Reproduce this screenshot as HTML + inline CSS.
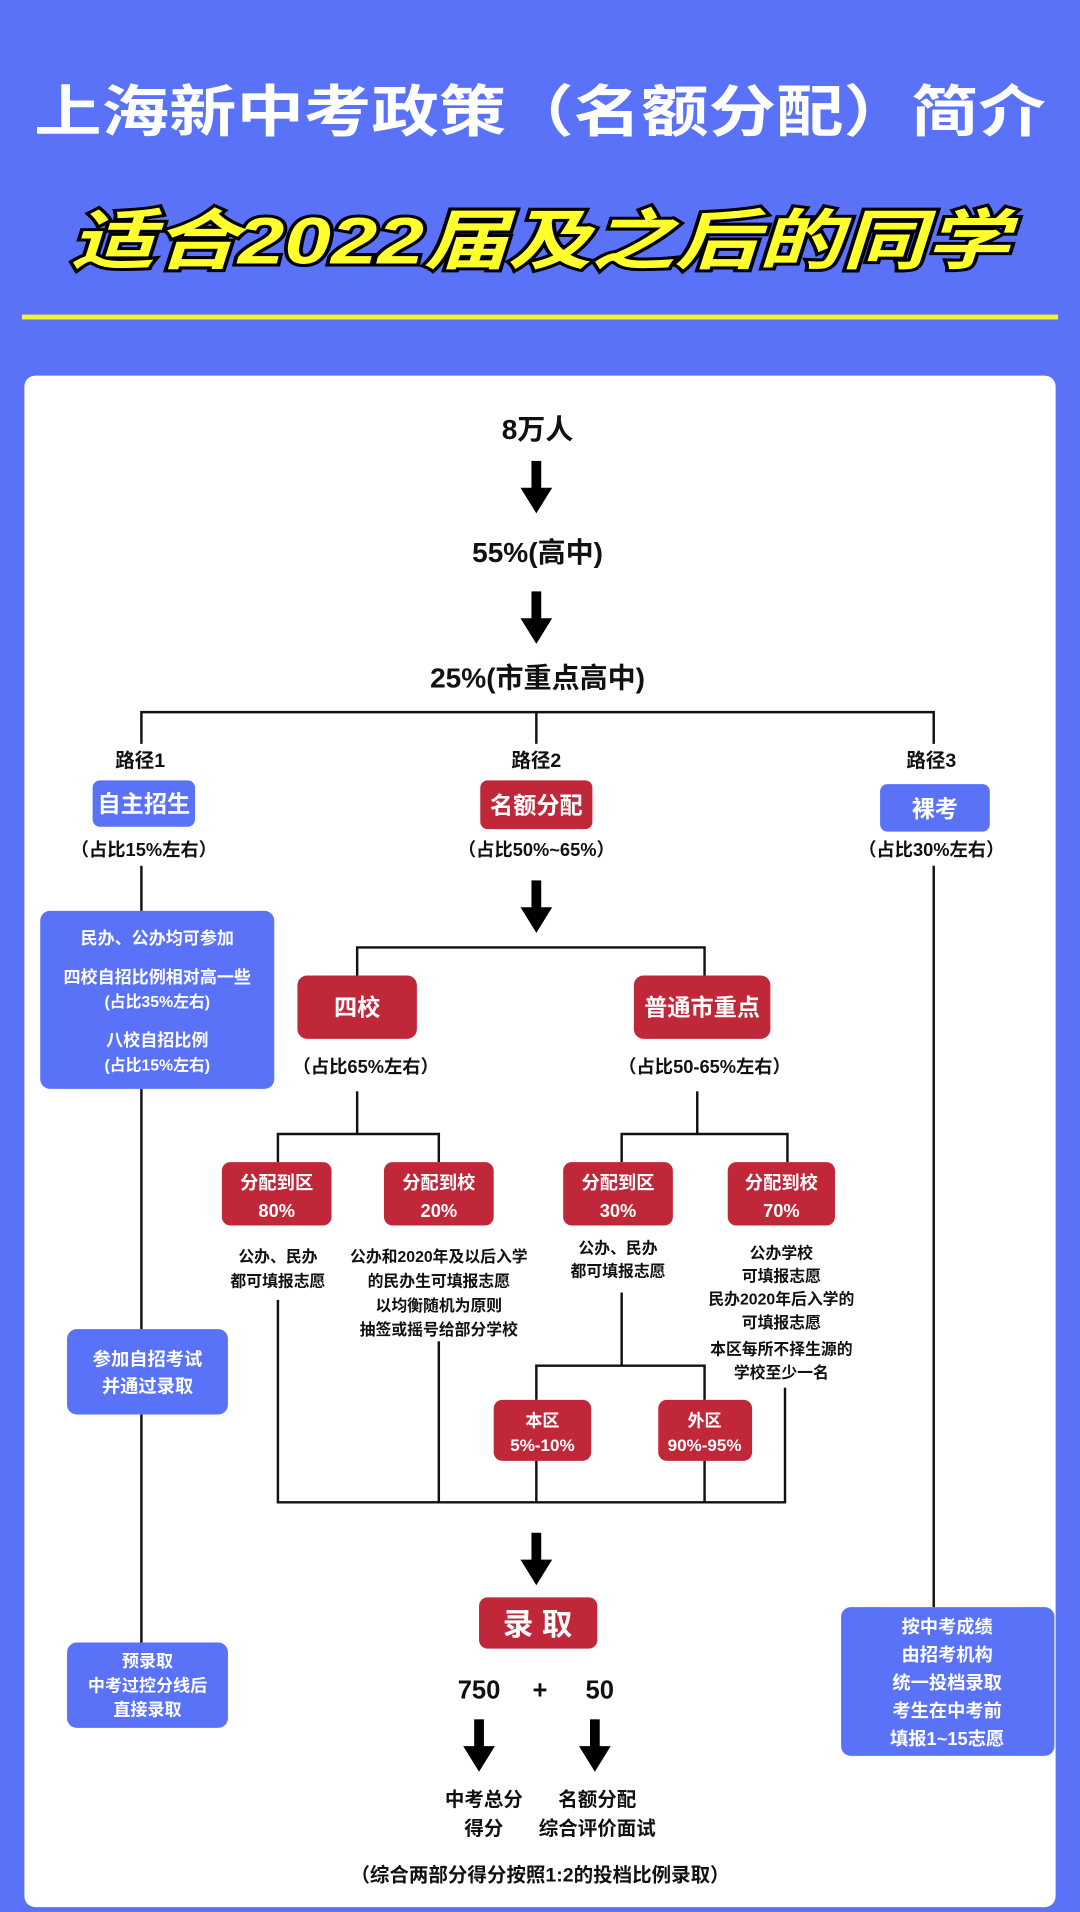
<!DOCTYPE html>
<html><head><meta charset="utf-8"><style>
html,body{margin:0;padding:0;background:#5a72f8;}
svg{display:block;}
text{font-family:"Liberation Sans","Noto Sans CJK SC",sans-serif;font-weight:bold;}
</style></head><body>
<svg width="1080" height="1912" viewBox="0 0 886 1568" preserveAspectRatio="none" xmlns="http://www.w3.org/2000/svg">
<rect x="0" y="0" width="886" height="1568" fill="#5a72f8"/>
<text x="443" y="108" font-size="46" fill="#fff" text-anchor="middle" textLength="830" lengthAdjust="spacingAndGlyphs">上海新中考政策（名额分配）简介</text>
<text x="443" y="216" font-size="54" fill="#ffff2e" stroke="#000" stroke-width="5" paint-order="stroke" font-style="italic" text-anchor="middle" textLength="770" lengthAdjust="spacingAndGlyphs">适合2022届及之后的同学</text>
<rect x="18" y="258" width="850" height="4" fill="#f3f03a"/>
<rect x="20" y="308" width="846" height="1256" rx="9" fill="#fff"/>

<g fill="#111" text-anchor="middle">
<text x="441" y="360" font-size="23">8万人</text>
<text x="441" y="461" font-size="23">55%(高中)</text>
<text x="441" y="564" font-size="23">25%(市重点高中)</text>
</g>

<g fill="#000">
<rect x="436" y="378" width="8" height="24"/><polygon points="427,400 453,400 440,421"/>
<rect x="436" y="485" width="8" height="24"/><polygon points="427,507 453,507 440,528"/>
<rect x="436" y="722" width="8" height="24"/><polygon points="427,744 453,744 440,765"/>
<rect x="436" y="1257" width="8" height="24"/><polygon points="427,1279 453,1279 440,1300"/>
<rect x="389" y="1410" width="8" height="24"/><polygon points="380,1432 406,1432 393,1453"/>
<rect x="484" y="1410" width="8" height="24"/><polygon points="475,1432 501,1432 488,1453"/>
</g>

<g stroke="#111" stroke-width="2" fill="none">
<path d="M116,610 V584 H766 V610"/>
<path d="M440,584 V610"/>
<path d="M116,710 V747"/>
<path d="M116,893 V1090"/>
<path d="M116,1160 V1347"/>
<path d="M766,710 V1318"/>
<path d="M293,800 V777 H578 V800"/>
<path d="M293,895 V930"/>
<path d="M228,953 V930 H360 V953"/>
<path d="M572,895 V930"/>
<path d="M510,953 V930 H646 V953"/>
<path d="M228,1066 V1232 H644 V1138"/>
<path d="M360,1100 V1232"/>
<path d="M510,1060 V1120"/>
<path d="M440,1148 V1120 H578 V1148"/>
<path d="M440,1198 V1232"/>
<path d="M578,1198 V1232"/>
</g>

<g fill="#111" text-anchor="middle" font-size="16">
<text x="115" y="629">路径1</text>
<text x="440" y="629">路径2</text>
<text x="764" y="629">路径3</text>
<text x="118" y="702" font-size="15">（占比15%左右）</text>
<text x="440" y="702" font-size="15">（占比50%~65%）</text>
<text x="764" y="702" font-size="15">（占比30%左右）</text>
</g>

<rect x="76" y="640" width="84" height="38" rx="6" fill="#5a72f8"/>
<text x="118" y="666" font-size="19" fill="#fff" text-anchor="middle">自主招生</text>
<rect x="394" y="640" width="92" height="40" rx="6" fill="#c0283a"/>
<text x="440" y="667" font-size="19" fill="#fff" text-anchor="middle">名额分配</text>
<rect x="722" y="643" width="90" height="39" rx="6" fill="#5a72f8"/>
<text x="767" y="670" font-size="19" fill="#fff" text-anchor="middle">裸考</text>

<rect x="33" y="747" width="192" height="146" rx="8" fill="#5a72f8"/>
<g fill="#fff" text-anchor="middle" font-size="14">
<text x="129" y="774">民办、公办均可参加</text>
<text x="129" y="806">四校自招比例相对高一些</text>
<text x="129" y="826" font-size="13">(占比35%左右)</text>
<text x="129" y="858">八校自招比例</text>
<text x="129" y="878" font-size="13">(占比15%左右)</text>
</g>
<rect x="55" y="1090" width="132" height="70" rx="8" fill="#5a72f8"/>
<g fill="#fff" text-anchor="middle" font-size="15">
<text x="121" y="1120">参加自招考试</text>
<text x="121" y="1142">并通过录取</text>
</g>
<rect x="55" y="1347" width="132" height="70" rx="8" fill="#5a72f8"/>
<g fill="#fff" text-anchor="middle" font-size="14">
<text x="121" y="1367">预录取</text>
<text x="121" y="1387">中考过控分线后</text>
<text x="121" y="1407">直接录取</text>
</g>

<rect x="244" y="800" width="98" height="52" rx="8" fill="#c0283a"/>
<text x="293" y="833" font-size="19" fill="#fff" text-anchor="middle">四校</text>
<rect x="520" y="800" width="112" height="52" rx="8" fill="#c0283a"/>
<text x="576" y="833" font-size="19" fill="#fff" text-anchor="middle">普通市重点</text>
<g fill="#111" text-anchor="middle" font-size="15">
<text x="300" y="880">（占比65%左右）</text>
<text x="578" y="880">（占比50-65%左右）</text>
</g>

<g fill="#c0283a">
<rect x="182" y="953" width="90" height="52" rx="7"/>
<rect x="315" y="953" width="90" height="52" rx="7"/>
<rect x="462" y="953" width="90" height="52" rx="7"/>
<rect x="597" y="953" width="88" height="52" rx="7"/>
<rect x="405" y="1148" width="80" height="50" rx="7"/>
<rect x="540" y="1148" width="77" height="50" rx="7"/>
<rect x="393" y="1310" width="97" height="42" rx="7"/>
</g>
<g fill="#fff" text-anchor="middle" font-size="15">
<text x="227" y="975">分配到区</text><text x="227" y="998">80%</text>
<text x="360" y="975">分配到校</text><text x="360" y="998">20%</text>
<text x="507" y="975">分配到区</text><text x="507" y="998">30%</text>
<text x="641" y="975">分配到校</text><text x="641" y="998">70%</text>
<text x="445" y="1170" font-size="14">本区</text><text x="445" y="1190" font-size="14">5%-10%</text>
<text x="578" y="1170" font-size="14">外区</text><text x="578" y="1190" font-size="14">90%-95%</text>
<text x="441" y="1341" font-size="25">录 取</text>
</g>

<g fill="#111" text-anchor="middle" font-size="13">
<text x="228" y="1035">公办、民办</text>
<text x="228" y="1055">都可填报志愿</text>
<text x="360" y="1035">公办和2020年及以后入学</text>
<text x="360" y="1055">的民办生可填报志愿</text>
<text x="360" y="1075">以均衡随机为原则</text>
<text x="360" y="1095">抽签或摇号给部分学校</text>
<text x="507" y="1028">公办、民办</text>
<text x="507" y="1047">都可填报志愿</text>
<text x="641" y="1032">公办学校</text>
<text x="641" y="1051">可填报志愿</text>
<text x="641" y="1070">民办2020年后入学的</text>
<text x="641" y="1089">可填报志愿</text>
<text x="641" y="1111">本区每所不择生源的</text>
<text x="641" y="1130">学校至少一名</text>
</g>

<g fill="#111" text-anchor="middle" font-size="21">
<text x="393" y="1393">750</text>
<text x="443" y="1393">+</text>
<text x="492" y="1393">50</text>
</g>
<g fill="#111" text-anchor="middle" font-size="16">
<text x="397" y="1481">中考总分</text>
<text x="397" y="1505">得分</text>
<text x="490" y="1481">名额分配</text>
<text x="490" y="1505">综合评价面试</text>
<text x="443" y="1543">（综合两部分得分按照1:2的投档比例录取）</text>
</g>

<rect x="690" y="1318" width="175" height="122" rx="8" fill="#5a72f8"/>
<g fill="#fff" text-anchor="middle" font-size="15">
<text x="777" y="1339">按中考成绩</text>
<text x="777" y="1362">由招考机构</text>
<text x="777" y="1385">统一投档录取</text>
<text x="777" y="1408">考生在中考前</text>
<text x="777" y="1431">填报1~15志愿</text>
</g>
</svg>
</body></html>
